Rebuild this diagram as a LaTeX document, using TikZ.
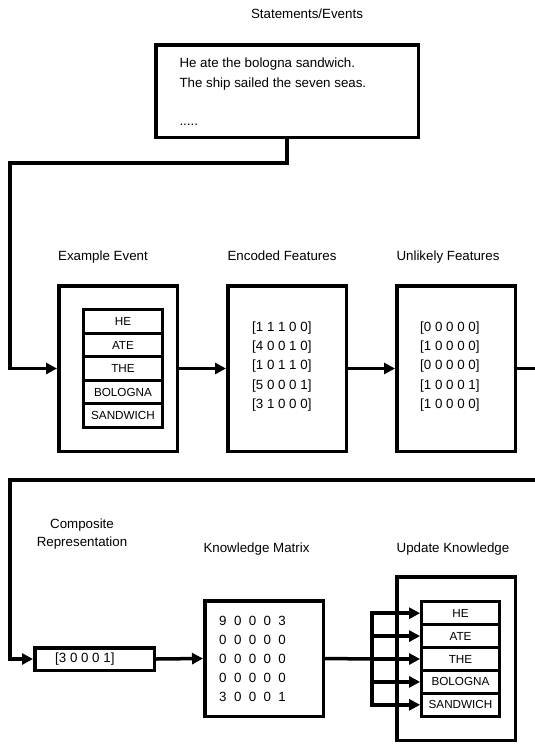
\documentclass[tikz,border=0pt]{standalone}
\usepackage{fontspec}
\setmainfont{Liberation Sans}
\usetikzlibrary{arrows.meta}
\begin{document}
\begin{tikzpicture}[x=1pt,y=-1pt,
  lbl/.style={font=\fontsize{13.33}{16}\selectfont, inner sep=0pt},
  blk/.style={font=\fontsize{13.33}{19.2}\selectfont, align=left, inner sep=0pt},
  bigbox/.style={draw, line width=3.5pt, inner sep=0pt},
  wordbox/.style={draw, line width=3.3pt, inner sep=0pt, font=\fontsize{11.7}{14}\selectfont},
  conn/.style={line width=3.5pt},
  arr/.style={conn, -{Triangle[length=11pt,width=11pt]}},
]
\useasboundingbox (0,0) rectangle (535,744);

% titles and labels
\node[lbl, anchor=base] (title) at (307,18.5) {Statements/Events};
\node[lbl, anchor=base] (lex) at (103,260) {Example Event};
\node[lbl, anchor=base] (lenc) at (282,260) {Encoded Features};
\node[lbl, anchor=base] (lunl) at (448,260) {Unlikely Features};
\node[lbl, anchor=base] (lcomp1) at (82,528) {Composite};
\node[lbl, anchor=base] (lcomp2) at (82,546.5) {Representation};
\node[lbl, anchor=base] (lkm) at (256.5,552) {Knowledge Matrix};
\node[lbl, anchor=base] (lupd) at (453,552) {Update Knowledge};

% statements box
\node[bigbox, minimum width=262.5pt, minimum height=92.5pt] (events) at (287,91) {};
\node[lbl, anchor=base west] (s1) at (179.3,67) {He ate the bologna sandwich.};
\node[lbl, anchor=base west] (s2) at (179.3,87.3) {The ship sailed the seven seas.};
\node[lbl, anchor=base west] (s3) at (179.3,125) {.....};

% top row boxes
\node[bigbox, minimum width=118.5pt, minimum height=165.5pt] (ex) at (118,368.5) {};
\node[bigbox, minimum width=118.5pt, minimum height=165.5pt] (enc) at (287,368.5) {};
\node[bigbox, minimum width=118.5pt, minimum height=165.5pt] (unl) at (456,368.5) {};

\foreach \w/\y [count=\i] in {HE/321.5, ATE/345, THE/368.5, BOLOGNA/392, SANDWICH/415.5}
  \node[wordbox, minimum width=78.5pt, minimum height=23.5pt] (w\i) at (123,\y) {\w};

\node[blk, anchor=west] (enctext) at (252,366.5) {{[}1 1 1 0 0{]}\\{[}4 0 0 1 0{]}\\{[}1 0 1 1 0{]}\\{[}5 0 0 0 1{]}\\{[}3 1 0 0 0{]}};
\node[blk, anchor=west] (unltext) at (420,366.5) {{[}0 0 0 0 0{]}\\{[}1 0 0 0 0{]}\\{[}0 0 0 0 0{]}\\{[}1 0 0 0 1{]}\\{[}1 0 0 0 0{]}};

% bottom row boxes
\node[bigbox, minimum width=119.5pt, minimum height=22.5pt] (comp) at (94.5,659) {};
\node[lbl, anchor=west] (comptext) at (55,659.5) {{[}3 0 0 0 1{]}};
\node[bigbox, minimum width=118.5pt, minimum height=115.5pt] (km) at (264,658.5) {};
\node[blk, anchor=west] (kmtext) at (219,659) {9~~0~~0~~0~~3\\0~~0~~0~~0~~0\\0~~0~~0~~0~~0\\0~~0~~0~~0~~0\\3~~0~~0~~0~~1};
\node[bigbox, minimum width=118.5pt, minimum height=163.5pt] (upd) at (456,658.5) {};

\foreach \w/\y [count=\i] in {HE/613.2, ATE/636.1, THE/659, BOLOGNA/681.9, SANDWICH/704.8}
  \node[wordbox, minimum width=77.5pt, minimum height=22.9pt] (u\i) at (460.5,\y) {\w};

% connectors
\coordinate (t1) at (287,163);
\coordinate (t2) at (10,163);
\draw[arr, line join=miter] (events.south) -- (t1) -- (t2) -- (t2 |- ex.west) -- (ex.west);
\draw[arr] (ex.east) -- (enc.west);
\draw[arr] (enc.east) -- (unl.west);
\coordinate (r1) at (535,368.5);
\draw[conn] (unl.east) -- (r1);
\coordinate (r2) at (535,480);
\coordinate (l2) at (10,480);
\draw[arr, line join=miter] (r2) -- (l2) -- (l2 |- comp.west) -- (comp.west);
\draw[arr] (comp.east) -- (km.west);
\coordinate (bus) at (372,659);
\draw[conn] (km.east) -- (bus);
\draw[conn, line cap=rect] (u1.west -| bus) -- (u5.west -| bus);
\foreach \i in {1,...,5}
  \draw[arr] (u\i.west -| bus) -- (u\i.west);
\end{tikzpicture}
\end{document}
